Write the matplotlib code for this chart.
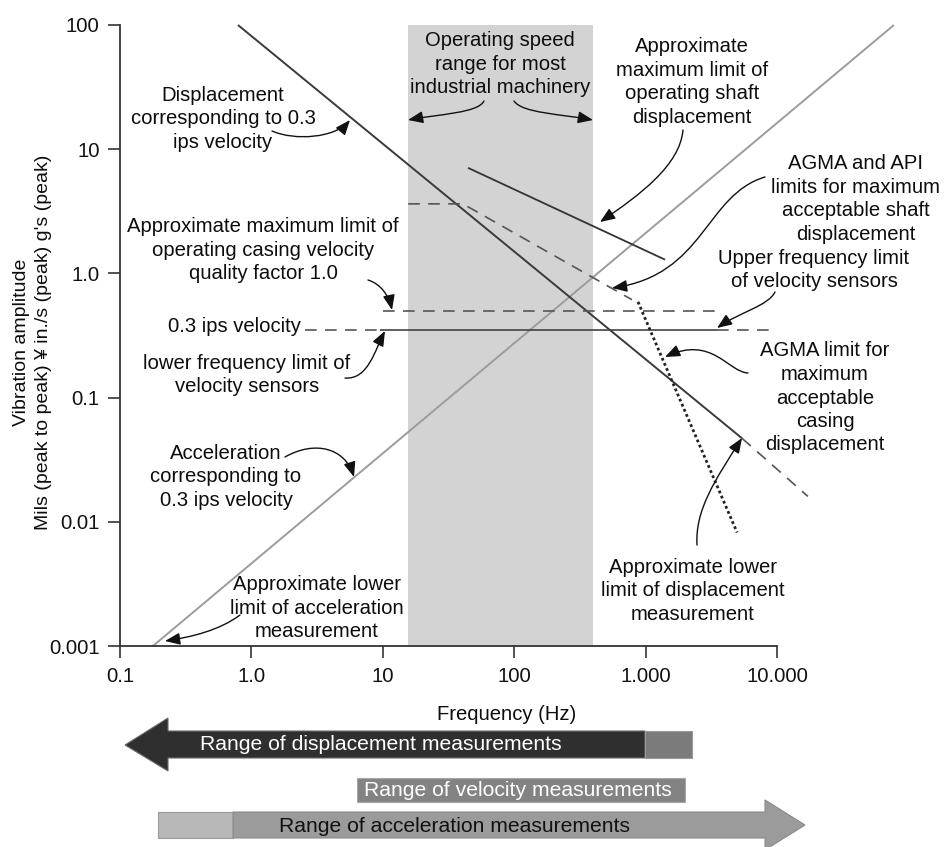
import matplotlib
matplotlib.use("Agg")
import matplotlib.pyplot as plt
from matplotlib.transforms import Affine2D
from matplotlib.patches import FancyArrowPatch, Polygon
from matplotlib.path import Path
from matplotlib.ticker import NullLocator

plt.rcParams['font.family'] = ['Liberation Sans', 'DejaVu Sans']

W, H = 949, 847

# ---------------- data ----------------
x_ticks = [0.1, 1, 10, 100, 1000, 10000]
x_tick_labels = ["0.1", "1.0", "10", "100", "1.000", "10.000"]
y_ticks = [0.001, 0.01, 0.1, 1, 10, 100]
y_tick_labels = ["0.001", "0.01", "0.1", "1.0", "10", "100"]

band_hz = [15.5, 400]                       # operating speed range
disp_f = [0.79, 5420]                       # displacement for 0.3 ips
disp_v = [100, 0.047]
disp_ext_f = [5420, 17200]                  # dashed continuation
disp_ext_v = [0.047, 0.016]
accel_f = [0.178, 77600]                    # acceleration for 0.3 ips
accel_v = [0.001, 100]
casing_f = [10, 3680]                       # casing velocity limit (QF 1.0)
casing_v = [0.5, 0.5]
ips_lo_f = [2.56, 9.5]                      # 0.3 ips velocity line
ips_mid_f = [9.5, 3490]
ips_hi_f = [3490, 10000]
ips_v = 0.35
shaft_f = [44.5, 1406]                      # max operating shaft displacement
shaft_v = [7.08, 1.29]
api_f = [15.6, 40.7, 787]                   # AGMA / API shaft limits
api_v = [3.63, 3.63, 0.614]
dotted_f = [875, 4970]                      # lower limit of displacement meas.
dotted_v = [0.59, 0.0082]

# ---------------- figure ----------------
fig = plt.figure(figsize=(W / 100, H / 100), dpi=100)
ref = Affine2D().scale(1 / W, -1 / H).translate(0, 1) + fig.transFigure

ax = fig.add_axes([120 / W, 1 - 646 / H, 657 / W, 621 / H])
ax.set_xscale('log')
ax.set_yscale('log')
ax.set_xlim(0.1, 1e4)
ax.set_ylim(1e-3, 100)
for s in ['top', 'right']:
    ax.spines[s].set_visible(False)
for s in ['left', 'bottom']:
    ax.spines[s].set_color('#333333')
    ax.spines[s].set_linewidth(1.3)
ax.set_xticks(x_ticks, x_tick_labels)
ax.set_yticks(y_ticks, y_tick_labels)
ax.xaxis.set_minor_locator(NullLocator())
ax.yaxis.set_minor_locator(NullLocator())
ax.tick_params(direction='out', length=8.6, width=1.2, color='#333333',
               labelsize=14.6, labelcolor='#111111')
ax.tick_params(axis='y', pad=6)
ax.tick_params(axis='x', pad=6.5)
ax.patch.set_visible(False)

ax.axvspan(band_hz[0], band_hz[1], color='#d3d3d3', lw=0, zorder=0)

kw = dict(clip_on=False, solid_capstyle='butt')
ax.plot(accel_f, accel_v, color='#9c9c9c', lw=1.4, zorder=2, **kw)
ax.plot(disp_f, disp_v, color='#3a3a3a', lw=1.4, zorder=3, **kw)
ax.plot(disp_ext_f, disp_ext_v, color='#555555', lw=1.2, dashes=(7, 5), zorder=3, **kw)
ax.plot(casing_f, casing_v, color='#555555', lw=1.2, dashes=(7, 5), zorder=3, **kw)
ax.plot(ips_lo_f, [ips_v, ips_v], color='#555555', lw=1.2, dashes=(7, 5), zorder=3, **kw)
ax.plot(ips_mid_f, [ips_v, ips_v], color='#444444', lw=1.2, zorder=3, **kw)
ax.plot(ips_hi_f, [ips_v, ips_v], color='#555555', lw=1.2, dashes=(7, 5), zorder=3, **kw)
ax.plot(shaft_f, shaft_v, color='#333333', lw=1.3, zorder=3, **kw)
ax.plot(api_f, api_v, color='#555555', lw=1.2, dashes=(7, 5), zorder=3, **kw)
ax.plot(dotted_f, dotted_v, color='#222222', lw=2.0, linestyle=(0, (1, 1)), zorder=3, **kw)

# ---------------- texts ----------------
TXT = dict(transform=ref, fontsize=14.6, color='#0d0d0d', linespacing=1.3,
           ha='center', va='center')

def label(x, y, s, **extra):
    d = dict(TXT)
    d.update(extra)
    fig.text(x, y, s, **d)

label(223, 119, "Displacement\ncorresponding to 0.3\nips velocity")
label(500, 64, "Operating speed\nrange for most\nindustrial machinery")
label(692, 82, "Approximate\nmaximum limit of\noperating shaft\ndisplacement")
label(856, 199, "AGMA and API\nlimits for maximum\nacceptable shaft\ndisplacement")
label(814, 270, "Upper frequency limit\nof velocity sensors")
label(263, 250, "Approximate maximum limit of\noperating casing velocity\nquality factor 1.0")
label(301, 327, "0.3 ips velocity", ha='right')
label(247, 375, "lower frequency limit of\nvelocity sensors")
label(825, 398, "AGMA limit for\nmaximum\nacceptable\ncasing\ndisplacement")
label(226, 477, "Acceleration\ncorresponding to\n0.3 ips velocity")
label(317, 608, "Approximate lower\nlimit of acceleration\nmeasurement")
label(693, 591, "Approximate lower\nlimit of displacement\nmeasurement")

label(507, 714, "Frequency (Hz)")
label(22, 342, "Vibration amplitude", rotation=90, fontsize=14)
label(44, 342, "Mils (peak to peak) \u00a5 in./s (peak) g's (peak)", rotation=90, fontsize=14)

# ---------------- curved arrows ----------------
def carrow(p0, c1, c2, p1):
    path = Path([p0, c1, c2, p1], [Path.MOVETO, Path.CURVE4, Path.CURVE4, Path.CURVE4])
    a = FancyArrowPatch(path=path, transform=ref,
                        arrowstyle='-|>,head_length=0.7,head_width=0.28',
                        mutation_scale=13, lw=1.0, color='#111111')
    fig.add_artist(a)

carrow((272, 131), (295, 141), (335, 138), (350, 120))
carrow((484, 101), (478, 113), (440, 114), (408, 120))
carrow((514, 101), (522, 113), (560, 114), (593, 120))
carrow((683, 130), (680, 165), (640, 195), (600, 222))
carrow((765, 177), (705, 195), (705, 275), (612, 288))
carrow((775, 292), (768, 306), (740, 312), (717, 328))
carrow((368, 280), (381, 284), (389, 296), (392, 310))
carrow((345, 378), (368, 380), (375, 350), (385, 331))
carrow((748, 373), (728, 372), (712, 335), (665, 357))
carrow((285, 457), (315, 440), (345, 448), (354, 477))
carrow((697, 545), (695, 510), (715, 480), (742, 438))
carrow((240, 615), (220, 630), (192, 637), (165, 641))

# ---------------- measurement range arrows ----------------
def poly(pts, fc, ec='none', lw=0.8):
    fig.add_artist(Polygon(pts, closed=True, transform=ref, facecolor=fc,
                           edgecolor=ec, lw=lw))

poly([(125, 745), (168, 718), (168, 731), (645, 731), (645, 758), (168, 758), (168, 771)],
     '#2f2f2f', ec='#6a6a6a')
poly([(645, 731), (692, 731), (692, 758), (645, 758)], '#7b7b7b', ec='#9a9a9a')
fig.text(200, 745, "Range of displacement measurements", transform=ref,
         fontsize=15.2, color='white', ha='left', va='center')

poly([(357, 778), (685, 778), (685, 802), (357, 802)], '#838383', ec='#a8a8a8')
fig.text(518, 790, "Range of velocity measurements", transform=ref,
         fontsize=15.2, color='white', ha='center', va='center')

poly([(158, 812), (233, 812), (233, 838), (158, 838)], '#b8b8b8', ec='#9a9a9a')
poly([(233, 812), (765, 812), (765, 800), (805, 825), (765, 850), (765, 838), (233, 838)],
     '#9b9b9b', ec='#8a8a8a')
fig.text(455, 826, "Range of acceleration measurements", transform=ref,
         fontsize=15.2, color='#111111', ha='center', va='center')

fig.savefig("out.png", dpi=100)
